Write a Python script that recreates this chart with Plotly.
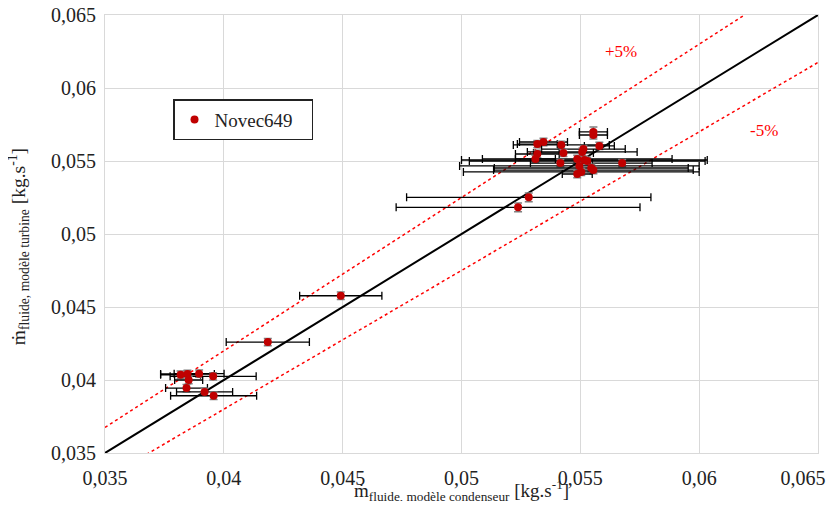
import plotly.graph_objects as go

# Data (mass flow rates, kg/s)
x_condenseur = [0.05555, 0.05555, 0.05319, 0.05345, 0.05420, 0.05580, 0.05513, 0.05508,
                0.05429, 0.05319, 0.05311, 0.05487, 0.05517, 0.05529, 0.05416, 0.05676,
                0.05496, 0.05546, 0.05555, 0.05504, 0.05487,
                0.05283, 0.05238, 0.04492, 0.04185,
                0.03818, 0.03847, 0.03896, 0.03955, 0.03852, 0.03843, 0.03919, 0.03957]
y_turbine = [0.05699, 0.05678, 0.05616, 0.05630, 0.05610, 0.05603, 0.05582, 0.05562,
             0.05555, 0.05548, 0.05514, 0.05514, 0.05507, 0.05500, 0.05486, 0.05486,
             0.05466, 0.05452, 0.05438, 0.05425, 0.05411,
             0.05251, 0.05183, 0.04577, 0.04260,
             0.04036, 0.04041, 0.04043, 0.04025, 0.04000, 0.03945, 0.03918, 0.03892]
x_err = [0.00059, 0.00059, 0.00084, 0.00101, 0.00202, 0.00063, 0.00176, 0.00231,
         0.00126, 0.00092, 0.00084, 0.00399, 0.00517, 0.00496, 0.00126, 0.00126,
         0.00504, 0.00408, 0.00420, 0.00496, 0.00063,
         0.00514, 0.00513, 0.00173, 0.00175,
         0.00084, 0.00113, 0.00105, 0.00181, 0.00059, 0.00088, 0.00118, 0.00181]
y_err = [0.00034, 0.00027, 0.00025, 0.00025, 0.00025, 0.00025, 0.00025, 0.00025,
         0.00025, 0.00025, 0.00025, 0.00025, 0.00025, 0.00025, 0.00025, 0.00025,
         0.00025, 0.00025, 0.00025, 0.00025, 0.00025,
         0.00030, 0.00030, 0.00026, 0.00025,
         0.00025, 0.00025, 0.00025, 0.00025, 0.00025, 0.00025, 0.00025, 0.00025]

series_name = "Novec649"
ref_x = [0.035, 0.065]
band = 0.05
tick_vals = [0.035, 0.04, 0.045, 0.05, 0.055, 0.06, 0.065]
tick_text_y = ["0,035", "0,04", "0,045", "0,05", "0,055", "0,06", "0,065"]
# last x label padded with no-break spaces so it stays inside the window
tick_text_x = ["0,035", "0,04", "0,045", "0,05", "0,055", "0,06", "0,065" + "\u00a0" * 6]
x_title = "ṁ<sub>fluide, modèle condenseur</sub> [kg.s<sup>-1</sup>]"
y_title = "ṁ<sub>fluide, modèle turbine</sub> [kg.s<sup>-1</sup>]"

FONT = "Liberation Serif"

fig = go.Figure()

# reference lines
fig.add_trace(go.Scatter(x=ref_x, y=ref_x, mode="lines",
                         line=dict(color="black", width=2), showlegend=False, hoverinfo="skip"))
fig.add_trace(go.Scatter(x=ref_x, y=[v * (1 + band) for v in ref_x], mode="lines",
                         line=dict(color="#ff0000", width=1.5, dash="3px,3px"),
                         showlegend=False, hoverinfo="skip"))
fig.add_trace(go.Scatter(x=ref_x, y=[v * (1 - band) for v in ref_x], mode="lines",
                         line=dict(color="#ff0000", width=1.5, dash="3px,3px"),
                         showlegend=False, hoverinfo="skip"))

fig.add_trace(go.Scatter(
    x=x_condenseur, y=y_turbine, mode="markers", name=series_name,
    marker=dict(color="#c00000", size=8),
    error_x=dict(type="data", array=x_err, visible=True, color="black", thickness=1.3, width=4),
    error_y=dict(type="data", array=y_err, visible=True, color="#7f7f7f", thickness=1.5, width=4),
))

eps = 1e-7
axis_common = dict(
    range=[0.035 - eps, 0.065 + eps], tickvals=tick_vals,
    showgrid=True, gridcolor="#d9d9d9", gridwidth=1,
    showline=True, linecolor="#d9d9d9", linewidth=1, mirror=True,
    zeroline=False, ticks="", automargin=False,
    ticklabeloverflow="allow",
    tickfont=dict(family=FONT, size=20, color="#222"),
)

fig.update_layout(
    width=827, height=493,
    margin=dict(l=97, r=17, t=7, b=48),
    paper_bgcolor="white", plot_bgcolor="white",
    font=dict(family=FONT, color="#222"),
    xaxis=dict(**axis_common, ticktext=tick_text_x, ticklabelstandoff=7),
    yaxis=dict(**axis_common, ticktext=tick_text_y, ticklabelstandoff=4),
    legend=dict(x=0.0954, y=0.808, xanchor="left", yanchor="top",
                orientation="h", entrywidth=92, entrywidthmode="pixels",
                bgcolor="white", bordercolor="#222", borderwidth=1.5,
                font=dict(family=FONT, size=19, color="#222")),
    showlegend=True,
    annotations=[
        dict(x=0.5, y=-0.085, xref="paper", yref="paper", text=x_title, showarrow=False,
             xanchor="center", yanchor="middle",
             font=dict(family=FONT, size=19, color="#222")),
        dict(x=-0.122, y=0.470, xref="paper", yref="paper", text=y_title, showarrow=False,
             textangle=-90, xanchor="center", yanchor="middle",
             font=dict(family=FONT, size=19.5, color="#222")),
        dict(x=0.05672, y=0.06247, xref="x", yref="y", text="+5%", showarrow=False,
             font=dict(family=FONT, size=17, color="#ff0000")),
        dict(x=0.06273, y=0.05706, xref="x", yref="y", text="-5%", showarrow=False,
             font=dict(family=FONT, size=17, color="#ff0000")),
    ],
)

fig.write_html("out.html")
